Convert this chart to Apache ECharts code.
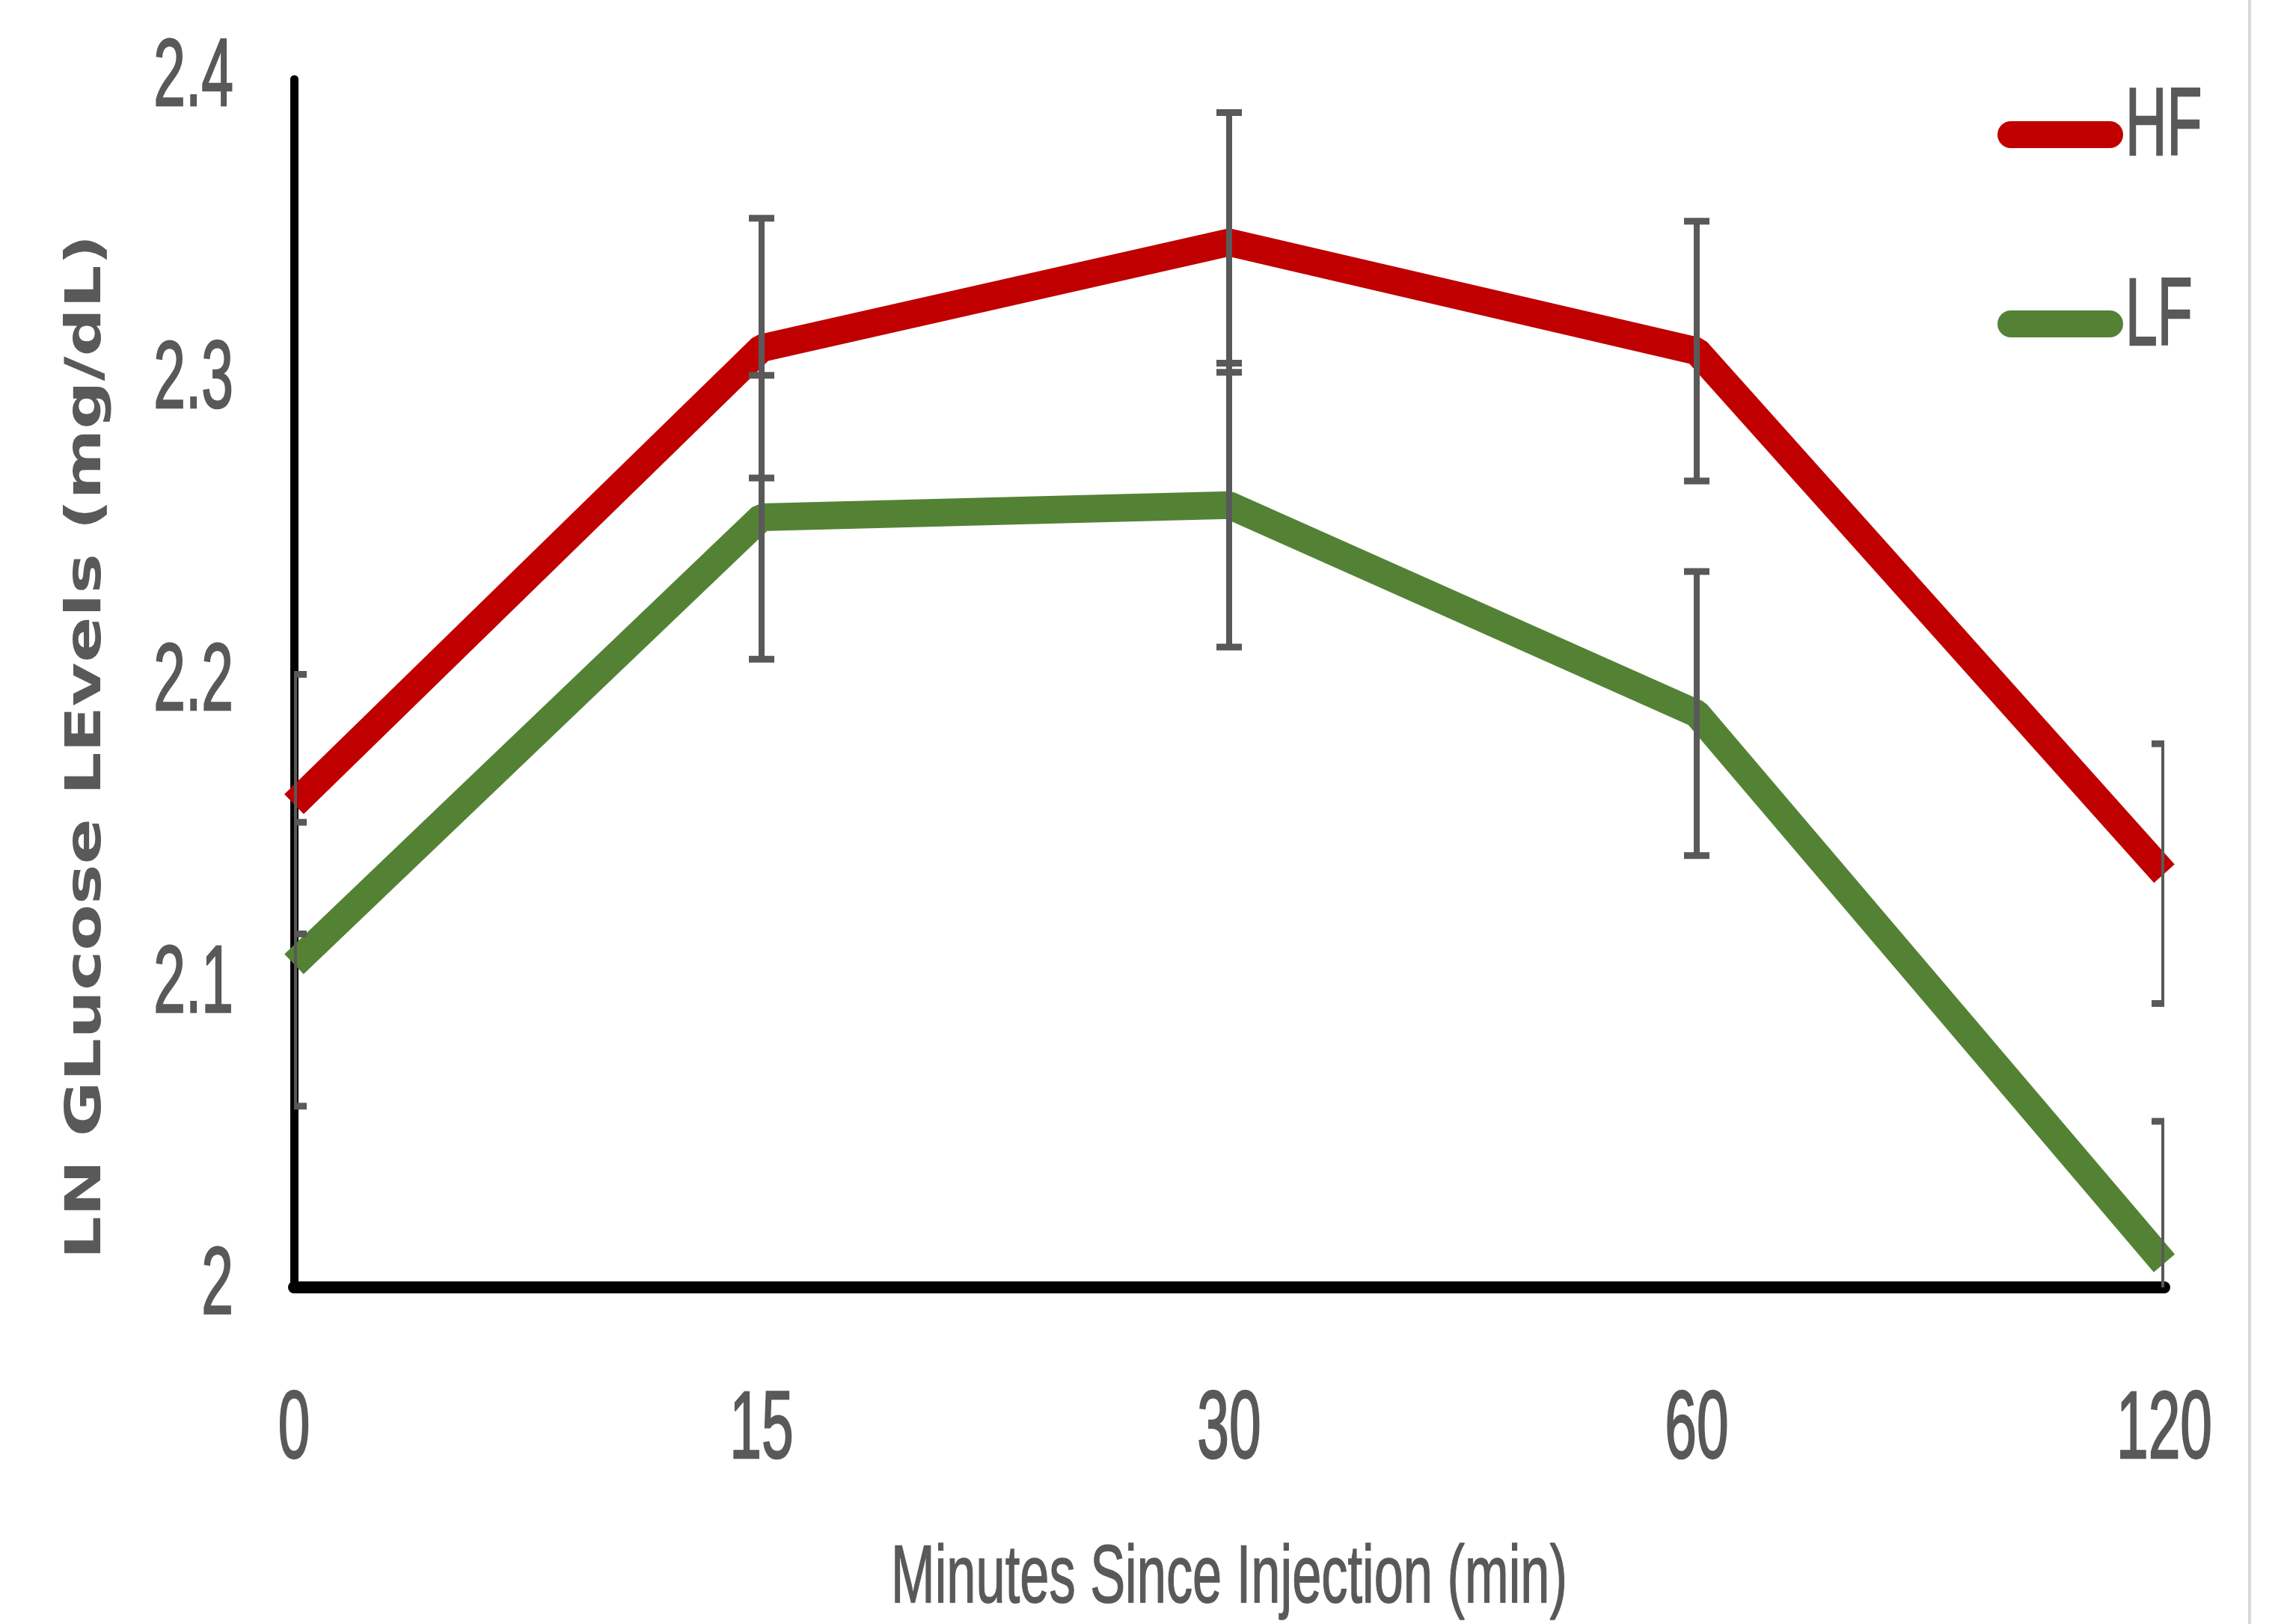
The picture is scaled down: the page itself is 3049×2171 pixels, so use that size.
<!DOCTYPE html>
<html lang="en">
<head>
    <meta charset="UTF-8">
    <title>LN Glucose Levels</title>
    <script src="https://cdn.jsdelivr.net/npm/echarts@6/dist/echarts.min.js"></script>
    <style>
        html, body { margin: 0; padding: 0; background: #fff; }
        #main { width: 3049px; height: 2171px; }
    </style>
</head>
<body>
<div id="main"></div>
<script>
    // minutes since injection
    var minutes = ['0', '15', '30', '60', '120'];

    // LN glucose values
    var hfValues = [2.160, 2.311, 2.346, 2.310, 2.137];
    var lfValues = [2.107, 2.255, 2.259, 2.190, 2.008];

    // error bar half-lengths
    var hfErr = [0.043, 0.043, 0.043, 0.043, 0.043];
    var lfErr = [0.047, 0.047, 0.047, 0.047, 0.047];

    // y tick values / labels
    var yTicks = [2, 2.1, 2.2, 2.3, 2.4];
    var yTickLabels = ['2', '2.1', '2.2', '2.3', '2.4'];

    var seriesNames = ['HF', 'LF'];
    var seriesColors = ['#C00000', '#548235'];

    var grey = '#595959';
    var labelFont = "'Liberation Sans', Arial, sans-serif";
    var squeeze = 0.6;   // the picture's text is squeezed sideways

    function errData(vals, errs) {
        var out = [];
        for (var i = 0; i < vals.length; i++) {
            out.push([i, vals[i], errs[i]]);
        }
        return out;
    }

    function renderErr(params, api) {
        var x = api.value(0);
        var v = api.value(1);
        var e = api.value(2);
        var top = api.coord([x, v + e]);
        var bot = api.coord([x, v - e]);
        var half = 17;
        var st = { stroke: grey, lineWidth: 8 };
        var cap = { stroke: grey, lineWidth: 9 };
        return {
            type: 'group',
            children: [
                { type: 'line', shape: { x1: top[0], y1: top[1], x2: bot[0], y2: bot[1] }, style: st },
                { type: 'line', shape: { x1: top[0] - half, y1: top[1], x2: top[0] + half, y2: top[1] }, style: cap },
                { type: 'line', shape: { x1: bot[0] - half, y1: bot[1], x2: bot[0] + half, y2: bot[1] }, style: cap }
            ]
        };
    }

    function squeezedText(x, y, text, font, align, sx, weight) {
        return {
            type: 'text',
            x: x,
            y: y,
            scaleX: sx || squeeze,
            silent: true,
            z: 10,
            style: {
                text: text,
                fill: grey,
                stroke: grey,
                lineWidth: weight || 0,
                font: font,
                align: align,
                verticalAlign: 'middle'
            }
        };
    }

    var myChart = echarts.init(document.getElementById('main'));

    var option = {
        backgroundColor: '#fff',
        animation: false,
        grid: { left: 393, right: 156, top: 106, bottom: 450 },
        legend: {
            orient: 'vertical',
            left: 2665,
            top: 157,
            itemWidth: 168,
            itemHeight: 36,
            itemGap: 217,
            icon: 'path://M18,0 L150,0 A18,18 0 0 1 150,36 L18,36 A18,18 0 0 1 18,0 Z',
            formatter: function () { return ''; },
            data: seriesNames
        },
        xAxis: {
            type: 'category',
            data: minutes,
            boundaryGap: false,
            axisLine: { lineStyle: { color: '#000', width: 16 } },
            axisTick: { show: false },
            axisLabel: { show: false },
            splitLine: { show: false }
        },
        yAxis: {
            type: 'value',
            min: 2,
            max: 2.4,
            interval: 0.1,
            axisLine: { show: true, lineStyle: { color: '#000', width: 11 } },
            axisTick: { show: false },
            axisLabel: { show: false },
            splitLine: { show: false }
        },
        series: [
            {
                name: seriesNames[0],
                type: 'line',
                data: hfValues,
                symbol: 'none',
                z: 2,
                itemStyle: { color: seriesColors[0] },
                lineStyle: { color: seriesColors[0], width: 37 }
            },
            {
                name: seriesNames[1],
                type: 'line',
                data: lfValues,
                symbol: 'none',
                z: 2,
                itemStyle: { color: seriesColors[1] },
                lineStyle: { color: seriesColors[1], width: 37 }
            },
            {
                type: 'custom',
                data: errData(hfValues, hfErr),
                renderItem: renderErr,
                clip: true,
                z: 5,
                silent: true
            },
            {
                type: 'custom',
                data: errData(lfValues, lfErr),
                renderItem: renderErr,
                clip: true,
                z: 5,
                silent: true
            }
        ]
    };

    myChart.setOption(option);

    // axis labels, titles and legend text placed through the chart's own scales
    var axisX = myChart.convertToPixel({ xAxisIndex: 0 }, minutes[0]);
    var axisY = myChart.convertToPixel({ yAxisIndex: 0 }, yTicks[0]);
    var topY = myChart.convertToPixel({ yAxisIndex: 0 }, yTicks[yTicks.length - 1]);
    var lastX = myChart.convertToPixel({ xAxisIndex: 0 }, minutes[minutes.length - 1]);

    var tickFont = '128px ' + labelFont;
    var texts = [];
    yTicks.forEach(function (v, i) {
        var py = myChart.convertToPixel({ yAxisIndex: 0 }, v);
        texts.push(squeezedText(axisX - 81, py, yTickLabels[i], tickFont, 'right', 0, 2.5));
    });
    minutes.forEach(function (m) {
        var px = myChart.convertToPixel({ xAxisIndex: 0 }, m);
        texts.push(squeezedText(px, axisY + 193, m, tickFont, 'center', 0, 2.5));
    });
    texts.push(squeezedText((axisX + lastX) / 2, axisY + 391, 'Minutes Since Injection (min)',
        '110px ' + labelFont, 'center', 0.64, 1.5));

    // y axis title, read bottom to top
    texts.push({
        type: 'text',
        x: axisX - 276,
        y: (axisY + topY) / 2 + 85,
        rotation: Math.PI / 2,
        scaleY: 0.74,
        silent: true,
        style: {
            text: 'LN GLucose LEvels (mg/dL)',
            fill: grey,
            font: 'bold 90px "DejaVu Sans", sans-serif',
            align: 'center',
            verticalAlign: 'middle'
        }
    });

    // legend labels beside the legend's icons
    seriesNames.forEach(function (n, i) {
        texts.push(squeezedText(2841, 172 + i * 254, n, tickFont, 'left', 0, 2.5));
    });

    // light frame edge at the right of the picture
    texts.push({
        type: 'line',
        shape: { x1: 3007, y1: 0, x2: 3007, y2: 2171 },
        style: { stroke: '#d9d9d9', lineWidth: 4 },
        silent: true
    });

    myChart.setOption({ graphic: texts });
</script>
</body>
</html>
